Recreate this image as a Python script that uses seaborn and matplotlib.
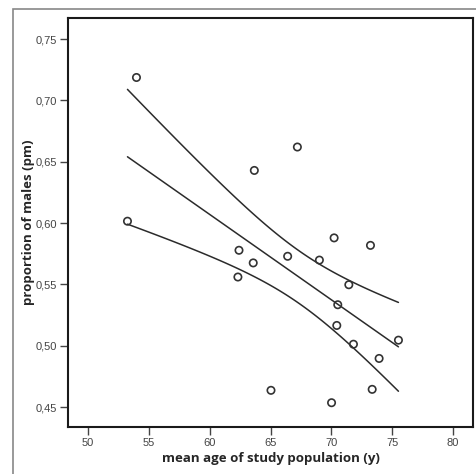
import numpy as np
import pandas as pd
import matplotlib
matplotlib.use('Agg')
import matplotlib.pyplot as plt
import seaborn as sns
from matplotlib.patches import Rectangle

# mean age of study population (y) and proportion of males (pm), one per study
mean_age = [53.24, 53.98, 63.67, 67.21, 70.23, 62.41, 66.41, 69.02, 63.58, 62.32,
            73.22, 71.44, 70.53, 70.45, 71.82, 75.52, 73.93, 65.04, 70.02, 73.36]
prop_males = [0.6015, 0.7187, 0.6429, 0.6620, 0.5879, 0.5778, 0.5729, 0.5698, 0.5675, 0.5560,
              0.5818, 0.5497, 0.5334, 0.5165, 0.5012, 0.5045, 0.4896, 0.4636, 0.4535, 0.4644]

x_ticks = [50, 55, 60, 65, 70, 75, 80]
y_ticks = [0.45, 0.50, 0.55, 0.60, 0.65, 0.70, 0.75]
y_tick_labels = ['0,45', '0,50', '0,55', '0,60', '0,65', '0,70', '0,75']

df = pd.DataFrame({'age': mean_age, 'pm': prop_males})

# linear fit with 90% confidence interval of the mean
x = df['age'].to_numpy()
y = df['pm'].to_numpy()
n = len(x)
b1, b0 = np.polyfit(x, y, 1)
resid = y - (b0 + b1 * x)
s = np.sqrt(np.sum(resid ** 2) / (n - 2))
xs = np.linspace(x.min(), x.max(), 100)
fit = b0 + b1 * xs
se = s * np.sqrt(1 / n + (xs - x.mean()) ** 2 / np.sum((x - x.mean()) ** 2))
t_crit = 1.734  # t(0.95, df=18)
ci = pd.DataFrame({'age': xs, 'fit': fit, 'lo': fit - t_crit * se, 'hi': fit + t_crit * se})

sns.set_style('white')
plt.rcParams['font.family'] = ['Liberation Sans', 'DejaVu Sans']

fig = plt.figure(figsize=(4.77, 4.74), dpi=100)
ax = fig.add_axes([68 / 477, 47 / 474, 405 / 477, 409 / 474])

line_col = '#2b2b2b'
for col in ['fit', 'lo', 'hi']:
    sns.lineplot(data=ci, x='age', y=col, ax=ax, color=line_col, linewidth=1.1)

sns.scatterplot(data=df, x='age', y='pm', ax=ax, s=28, marker='o',
                facecolor='none', edgecolor='#333333', linewidth=1.2, zorder=3)

ax.set_xlim(48.35, 81.65)
ax.set_ylim(0.4337, 0.7672)
ax.set_xticks(x_ticks)
ax.set_xticklabels([str(t) for t in x_ticks])
ax.set_yticks(y_ticks)
ax.set_yticklabels(y_tick_labels)

for sp in ax.spines.values():
    sp.set_color('#1a1a1a')
    sp.set_linewidth(1.5)

ax.tick_params(axis='both', which='major', direction='out', length=5.5, width=1,
               color='#444444', labelcolor='#444444', labelsize=8, pad=2.5,
               left=True, bottom=True)

ax.set_xlabel('mean age of study population (y)', fontsize=9.5, fontweight='bold',
              family=['Open Sans', 'DejaVu Sans'], labelpad=3)
ax.set_ylabel('proportion of males (pm)', fontsize=9.5, fontweight='bold',
              family=['Open Sans', 'DejaVu Sans'], labelpad=0.5)

# outer chart frame (cut off on right and bottom)
fig.add_artist(Rectangle((13 / 477, -0.1), 1.2, 1.1 - 9 / 474,
                         transform=fig.transFigure, fill=False,
                         edgecolor='#888888', linewidth=1.2, clip_on=False))

fig.savefig('out.png', dpi=100)
